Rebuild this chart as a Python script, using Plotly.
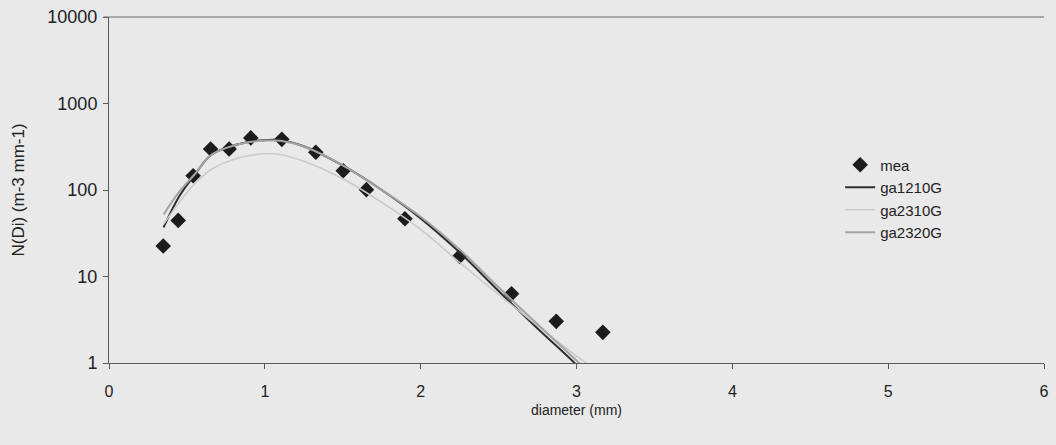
import plotly.graph_objects as go

# Measured drop size distribution
d_mea = [0.348, 0.444, 0.540, 0.652, 0.771, 0.910, 1.109, 1.327, 1.503, 1.652, 1.899, 2.25, 2.583, 2.87, 3.169]
n_mea = [22.5, 44.5, 146, 298, 298, 400, 385, 273, 167, 101, 46.6, 17.1, 6.3, 3.03, 2.26]

# Fitted gamma curves
d_fit = [0.35, 0.45, 0.55, 0.65, 0.75, 0.9, 1.0, 1.1, 1.25, 1.5, 1.75, 2.0, 2.25, 2.5, 2.75, 3.0, 3.1]
n_ga1210 = [37, 84, 150, 250, 306, 362, 377, 377, 321, 192, 100, 47, 19, 6.8, 2.5, 0.95, 0.6]
n_ga2310 = [40, 72, 118, 170, 210, 250, 262, 258, 215, 135, 72, 35, 14.5, 6.2, 2.7, 1.2, 0.9]
n_ga2320 = [52, 95, 152, 250, 305, 358, 372, 370, 318, 193, 100, 49, 20.5, 7.5, 2.8, 1.07, 0.72]

y_ticks = [1, 10, 100, 1000, 10000]
y_ticktext = ["1", "10", "100", "1000", "10000"]

bg = "#e9e9e9"
font = "Liberation Sans, Arial, sans-serif"

fig = go.Figure()
fig.add_trace(go.Scatter(
    x=d_mea, y=n_mea, mode="markers", name="mea",
    marker=dict(symbol="diamond", size=12, color="#1c1c1c"),
))
fig.add_trace(go.Scatter(
    x=d_fit, y=n_ga1210, mode="lines", name="ga1210G", line_shape="spline",
    line=dict(color="#2e2e2e", width=2),
))
fig.add_trace(go.Scatter(
    x=d_fit, y=n_ga2310, mode="lines", name="ga2310G", line_shape="spline",
    line=dict(color="#c9c9c9", width=1.5),
))
fig.add_trace(go.Scatter(
    x=d_fit, y=n_ga2320, mode="lines", name="ga2320G", line_shape="spline",
    line=dict(color="#a3a3a3", width=2),
))

# Top border line at 10000
fig.add_shape(type="line", xref="x domain", yref="y domain",
              x0=-0.006, x1=1, y0=1, y1=1,
              line=dict(color="#6a6a6a", width=1))

fig.update_layout(
    width=1056, height=445,
    margin=dict(l=109, r=7, t=16, b=82),
    paper_bgcolor=bg, plot_bgcolor=bg,
    font=dict(family=font, size=16, color="#222222"),
    showlegend=True,
    legend=dict(x=0.782, y=0.62, xanchor="left", yanchor="top",
                bgcolor="rgba(0,0,0,0)", font=dict(size=15),
                itemwidth=30),
    xaxis=dict(
        range=[0, 6], dtick=1, tick0=0, showgrid=False, zeroline=False,
        showline=True, linecolor="#5a5a5a", linewidth=1,
        ticks="outside", ticklen=5, tickcolor="#5a5a5a",
        tickfont=dict(size=16), ticklabelstandoff=9,
        title=dict(text="diameter (mm)", standoff=5, font=dict(size=14)),
    ),
    yaxis=dict(
        type="log", range=[0, 4], tickvals=y_ticks, ticktext=y_ticktext,
        showgrid=False, zeroline=False,
        showline=True, linecolor="#5a5a5a", linewidth=1,
        ticks="outside", ticklen=5, tickcolor="#5a5a5a",
        tickfont=dict(size=18), ticklabelstandoff=2,
        title=dict(text="N(Di) (m-3 mm-1)", standoff=18, font=dict(size=17)),
    ),
)

fig.write_html("out.html")
